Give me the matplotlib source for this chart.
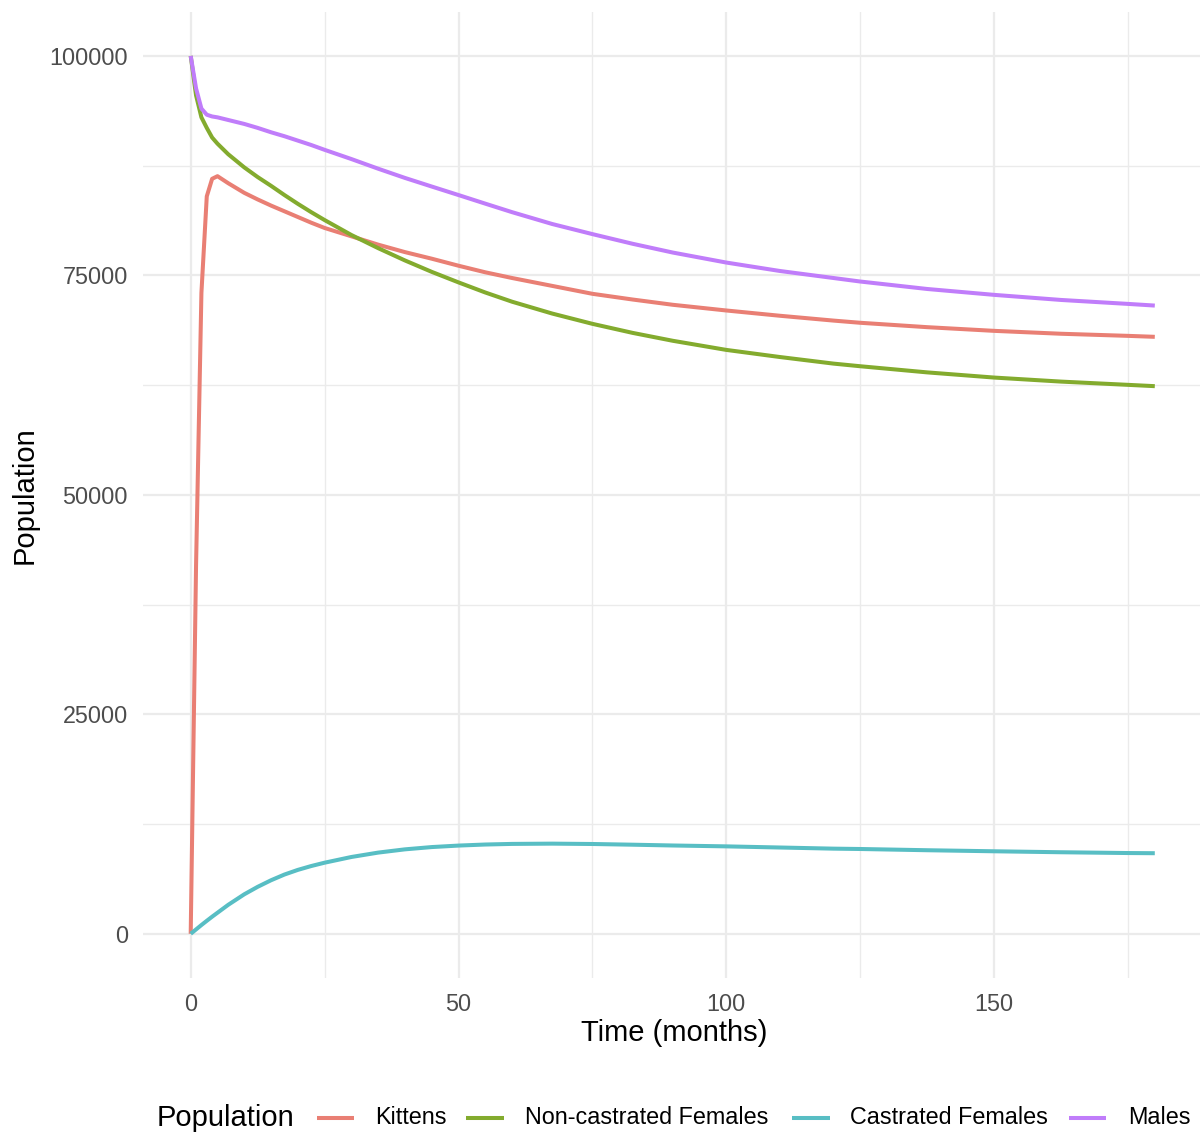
import matplotlib
matplotlib.use("Agg")
import matplotlib.pyplot as plt
from matplotlib.lines import Line2D

plt.rcParams['font.family'] = ['Liberation Sans', 'DejaVu Sans']

# ---- data ----
time = [0, 1, 2, 3, 4, 5, 7, 10, 12.5, 15, 17.5, 20, 22.5, 25, 30, 35, 40, 45,
        50, 55, 60, 67.5, 75, 82.5, 90, 100, 110, 120, 125, 137.5, 150, 162.5,
        175, 180]
kittens = [0, 42000, 73000, 84000, 86000, 86300, 85500, 84400, 83650, 82950,
           82300, 81650, 81000, 80400, 79450, 78500, 77650, 76900, 76100,
           75350, 74700, 73800, 72900, 72250, 71650, 71000, 70400, 69850,
           69600, 69100, 68680, 68350, 68110, 68000]
noncastrated = [100000, 95500, 93000, 91800, 90700, 90000, 88800, 87300, 86200,
                85200, 84150, 83150, 82200, 81300, 79600, 78100, 76700, 75400,
                74200, 73050, 72000, 70650, 69480, 68450, 67550, 66510, 65700,
                64950, 64650, 63950, 63360, 62900, 62530, 62380]
castrated = [0, 500, 1000, 1480, 1950, 2400, 3300, 4500, 5350, 6100, 6750,
             7280, 7720, 8100, 8750, 9250, 9620, 9880, 10050, 10170, 10240,
             10270, 10230, 10150, 10060, 9960, 9830, 9700, 9660, 9520, 9400,
             9290, 9200, 9180]
males = [100000, 96300, 94000, 93300, 93100, 93000, 92700, 92250, 91800, 91300,
         90850, 90350, 89850, 89300, 88250, 87150, 86100, 85120, 84150, 83170,
         82200, 80850, 79700, 78600, 77600, 76460, 75500, 74700, 74300, 73450,
         72780, 72200, 71750, 71560]

series_names = ["Kittens", "Non-castrated Females", "Castrated Females", "Males"]
series_values = [kittens, noncastrated, castrated, males]
colors = ["#E97F74", "#83AB2E", "#58BEC4", "#C07DFA"]

x_ticks = [0, 50, 100, 150]
y_ticks = [0, 25000, 50000, 75000, 100000]

# ---- figure ----
W, H = 1200, 1133
fig = plt.figure(figsize=(W / 100, H / 100), dpi=100)
left_px, right_px, top_px, bottom_px = 142.5, 1203, 12, 977.7
ax = fig.add_axes([left_px / W, 1 - bottom_px / H,
                   (right_px - left_px) / W, (bottom_px - top_px) / H])

for name, vals, c in zip(series_names, series_values, colors):
    ax.plot(time, vals, color=c, lw=2.9, solid_capstyle='butt',
            solid_joinstyle='round', zorder=3)

ax.set_xlim(-9, 189)
ax.set_ylim(-5000, 105000)
ax.set_xticks(x_ticks)
ax.set_xticklabels([str(v) for v in x_ticks])
ax.set_yticks(y_ticks)
ax.set_yticklabels([str(v) for v in y_ticks])
ax.set_xticks([25, 75, 125, 175], minor=True)
ax.set_yticks([12500, 37500, 62500, 87500], minor=True)

ax.grid(True, which='major', color='#EBEBEB', lw=1.6, zorder=0)
ax.grid(True, which='minor', color='#EBEBEB', lw=1.0, zorder=0)
ax.set_axisbelow(True)
for s in ax.spines.values():
    s.set_visible(False)
ax.tick_params(which='both', length=0)
ax.tick_params(axis='x', labelsize=16.8, labelcolor='#4D4D4D', pad=11)
ax.tick_params(axis='y', labelsize=16.8, labelcolor='#4D4D4D', pad=10.5)

# axis titles
fig.text(674 / W, 1 - 1033 / H, "Time (months)", fontsize=21, color='black',
         ha='center', va='center')
fig.text(25 / W, 1 - 495 / H, "Population", fontsize=21, color='black',
         ha='center', va='center', rotation=90)

# legend (bottom, horizontal)
ly = 1 - 1118 / H
fig.text(157 / W, ly, "Population", fontsize=21, color='black',
         ha='left', va='center')
key_x = [(317, 354), (466, 504), (792, 830), (1069, 1106)]
text_x = [375, 525, 850, 1128]
for (k0, k1), tx, name, c in zip(key_x, text_x, series_names, colors):
    fig.add_artist(Line2D([k0 / W, k1 / W], [ly, ly], transform=fig.transFigure,
                          color=c, lw=2.9, solid_capstyle='butt'))
    fig.text(tx / W, ly, name, fontsize=16.8, color='black',
             ha='left', va='center')

fig.savefig("out.png", dpi=100, facecolor='white')
